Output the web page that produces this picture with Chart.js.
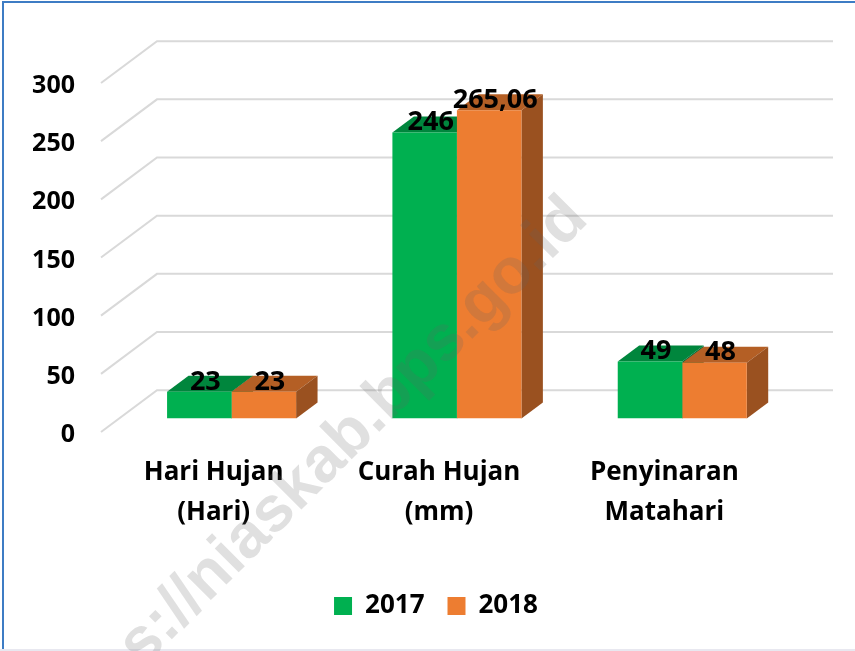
<!DOCTYPE html>
<html><head><meta charset="utf-8">
<script src="https://cdn.jsdelivr.net/npm/chart.js@4.4.1/dist/chart.umd.min.js"></script>
<style>html,body{margin:0;padding:0;background:#fff;} canvas{display:block}</style>
</head><body>
<canvas id="c" width="855" height="651"></canvas>
<script>
const categories = [["Hari Hujan","(Hari)"],["Curah Hujan","(mm)"],["Penyinaran","Matahari"]];
const seriesNames = ["2017","2018"];
const values2017 = [23, 246, 49];
const values2018 = [23, 265.06, 48];
const yTicks = [0, 50, 100, 150, 200, 250, 300];

const FONT = "'Open Sans', 'DejaVu Sans', sans-serif";
const frontColors = ['#00B050', '#ED7D31'];
const topColors = ['#00863D', '#B45F25'];
const sideColors = ['#00703A', '#9A5120'];
const DEPTH = {x: 56, y: -41.8};
const BAR_FRONT = 0.32, BAR_DEPTH = 0.383;

Chart.defaults.color = '#000';

function fmt(v){ return String(v).replace('.', ','); }

const threeD = {
  id: 'threeD',
  beforeDraw(chart) {
    const ctx = chart.ctx;
    ctx.save();
    ctx.fillStyle = '#fff';
    ctx.fillRect(0, 0, chart.width, chart.height);
    ctx.fillStyle = '#3d7cc4';
    ctx.fillRect(2, 1, chart.width - 2, 2);
    ctx.fillRect(2, 1, 2, chart.height - 1);
    ctx.fillStyle = '#e8e8f0';
    ctx.fillRect(0, chart.height - 2, chart.width, 2);
    ctx.restore();
  },
  beforeDatasetsDraw(chart) {
    const {ctx, chartArea: a, scales: {y}} = chart;
    ctx.save();
    ctx.strokeStyle = '#d9d9d9';
    ctx.lineWidth = 2;
    y.ticks.forEach(t => {
      const yy = y.getPixelForValue(t.value);
      ctx.beginPath();
      ctx.moveTo(a.left, yy);
      ctx.lineTo(a.left + DEPTH.x, yy + DEPTH.y);
      ctx.lineTo(a.right + DEPTH.x, yy + DEPTH.y);
      ctx.stroke();
    });
    ctx.restore();
    const ox = DEPTH.x * BAR_FRONT, oy = DEPTH.y * BAR_FRONT;
    const bx = DEPTH.x * BAR_DEPTH, by = DEPTH.y * BAR_DEPTH;
    const n = chart.data.labels.length;
    ctx.save();
    for (let i = 0; i < n; i++) {
      for (let d = 0; d < chart.data.datasets.length; d++) {
        const el = chart.getDatasetMeta(d).data[i];
        const p = el.getProps(['x', 'y', 'base', 'width'], true);
        const L = p.x - p.width / 2 + ox, R = p.x + p.width / 2 + ox, T = p.y + oy, B = p.base + oy;
        ctx.fillStyle = topColors[d];
        ctx.beginPath();
        ctx.moveTo(L, T); ctx.lineTo(R, T); ctx.lineTo(R + bx, T + by); ctx.lineTo(L + bx, T + by);
        ctx.closePath(); ctx.fill();
        ctx.fillStyle = sideColors[d];
        ctx.beginPath();
        ctx.moveTo(R, T); ctx.lineTo(R + bx, T + by); ctx.lineTo(R + bx, B + by); ctx.lineTo(R, B);
        ctx.closePath(); ctx.fill();
      }
    }
    ctx.restore();
    ctx.save();
    ctx.translate(ox, oy);
  },
  afterDatasetsDraw(chart) {
    const ctx = chart.ctx;
    ctx.restore();
    const ox = DEPTH.x * BAR_FRONT, oy = DEPTH.y * BAR_FRONT;
    ctx.save();
    ctx.fillStyle = '#000';
    ctx.font = `bold 27px ${FONT}`;
    ctx.textAlign = 'center';
    ctx.textBaseline = 'middle';
    chart.data.datasets.forEach((ds, d) => {
      chart.getDatasetMeta(d).data.forEach((el, i) => {
        const p = el.getProps(['x', 'y'], true);
        ctx.fillText(fmt(ds.data[i]), p.x + ox + 6, p.y + oy - 10);
      });
    });
    ctx.restore();
  },
  afterDraw(chart) {
    const ctx = chart.ctx;
    ctx.save();
    ctx.translate(590, 221);
    ctx.rotate(-Math.PI / 4);
    ctx.font = "bold 64px 'Liberation Sans', Arial, sans-serif";
    ctx.fillStyle = 'rgba(100,100,100,0.2)';
    ctx.textAlign = 'right';
    ctx.textBaseline = 'alphabetic';
    ctx.fillText('https://niaskab.bps.go.id', 0, 0);
    ctx.restore();
  }
};

new Chart(document.getElementById('c'), {
  type: 'bar',
  data: {
    labels: categories,
    datasets: [
      {label: seriesNames[0], data: values2017, backgroundColor: frontColors[0], borderWidth: 0},
      {label: seriesNames[1], data: values2018, backgroundColor: frontColors[1], borderWidth: 0}
    ]
  },
  options: {
    responsive: false,
    animation: false,
    layout: {padding: {left: 17, right: 0, top: 83, bottom: 22}},
    datasets: {bar: {categoryPercentage: 0.5726, barPercentage: 1}},
    scales: {
      x: {
        grid: {display: false, drawTicks: false},
        border: {display: false},
        ticks: {font: {family: FONT, size: 26, weight: 'bold', lineHeight: 1.55}, padding: 20, color: '#000', maxRotation: 0},
        afterFit(s) { s.height = s.chart.height - 22 - s.chart.legend.height - 432; }
      },
      y: {
        min: 0, max: 300,
        grid: {display: false, drawTicks: false},
        border: {display: false},
        ticks: {stepSize: 50, font: {family: FONT, size: 25, weight: 'bold'}, padding: 26, labelOffset: 3, color: '#000'},
        afterBuildTicks(s) { s.ticks = yTicks.map(v => ({value: v})); },
        afterFit(s) { s.width = 84; }
      },
      yRight: {
        position: 'right',
        min: 0, max: 300,
        grid: {display: false, drawTicks: false},
        border: {display: false},
        ticks: {display: false},
        afterFit(s) { s.width = 78; }
      }
    },
    plugins: {
      legend: {
        position: 'bottom',
        labels: {boxWidth: 18, boxHeight: 18, padding: 23, color: '#000', font: {family: FONT, size: 26, weight: 'bold'}}
      },
      tooltip: {enabled: false}
    }
  },
  plugins: [threeD]
});
</script>
</body></html>
